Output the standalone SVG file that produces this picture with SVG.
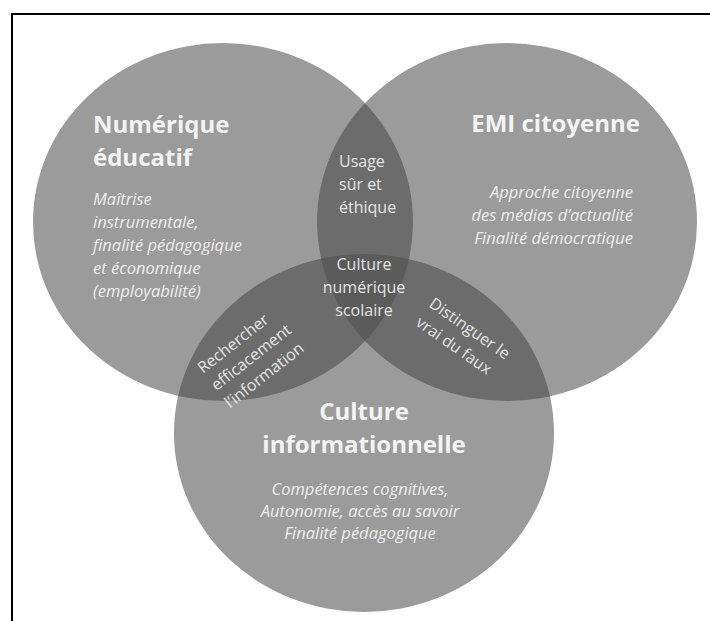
<svg xmlns="http://www.w3.org/2000/svg" width="710" height="621" viewBox="0 0 710 621">
  <style>
    .single { fill: #9b9b9b; }
    .double { fill: #6c6c6c; }
    .triple { fill: #5b5b5b; }
    text { font-family: "Open Sans", "Noto Sans", "DejaVu Sans", sans-serif; }
    .title { font-size: 24px; font-weight: bold; fill: #f4f4f4; }
    .desc { font-size: 16.5px; font-style: italic; fill: #eeeeee; }
    .lens { font-size: 16px; fill: #e4e4e4; }
  </style>
  <defs>
    <clipPath id="clipL"><ellipse cx="223" cy="222" rx="190" ry="179"/></clipPath>
    <clipPath id="clipR"><ellipse cx="507" cy="222" rx="190" ry="179"/></clipPath>
  </defs>

  <rect width="710" height="621" fill="#ffffff"/>
  <g id="frame" fill="none" stroke="#000000" stroke-width="2">
    <path d="M12,621 V14 H710"/>
  </g>

  <g id="node-numerique-educatif">
    <ellipse class="single" cx="223" cy="222" rx="190" ry="179"/>
  </g>
  <g id="node-emi-citoyenne">
    <ellipse class="single" cx="507" cy="222" rx="190" ry="179"/>
  </g>
  <g id="node-culture-informationnelle">
    <ellipse class="single" cx="364" cy="433" rx="190" ry="179"/>
  </g>

  <g id="overlaps">
    <ellipse class="double" cx="507" cy="222" rx="190" ry="179" clip-path="url(#clipL)"/>
    <ellipse class="double" cx="364" cy="433" rx="190" ry="179" clip-path="url(#clipL)"/>
    <ellipse class="double" cx="364" cy="433" rx="190" ry="179" clip-path="url(#clipR)"/>
    <g clip-path="url(#clipR)">
      <ellipse class="triple" cx="364" cy="433" rx="190" ry="179" clip-path="url(#clipL)"/>
    </g>
  </g>

  <g id="labels-numerique-educatif">
    <text class="title" x="93" y="133">Numérique</text>
    <text class="title" x="93" y="166">éducatif</text>
    <text class="desc" x="93" y="205">Maîtrise</text>
    <text class="desc" x="93" y="228">instrumentale,</text>
    <text class="desc" x="93" y="251">finalité pédagogique</text>
    <text class="desc" x="93" y="274">et économique</text>
    <text class="desc" x="93" y="297">(employabilité)</text>
  </g>

  <g id="labels-emi-citoyenne">
    <text class="title" x="640" y="132" text-anchor="end">EMI citoyenne</text>
    <text class="desc" x="633" y="198" text-anchor="end">Approche citoyenne</text>
    <text class="desc" x="633" y="221" text-anchor="end">des médias d’actualité</text>
    <text class="desc" x="633" y="244" text-anchor="end">Finalité démocratique</text>
  </g>

  <g id="labels-culture-informationnelle">
    <text class="title" x="364" y="420" text-anchor="middle">Culture</text>
    <text class="title" x="364" y="453" text-anchor="middle">informationnelle</text>
    <text class="desc" x="360" y="495" text-anchor="middle">Compétences cognitives,</text>
    <text class="desc" x="360" y="517" text-anchor="middle">Autonomie, accès au savoir</text>
    <text class="desc" x="360" y="539" text-anchor="middle">Finalité pédagogique</text>
  </g>

  <g id="lens-usage">
    <text class="lens" x="339" y="167">Usage</text>
    <text class="lens" x="339" y="190">sûr et</text>
    <text class="lens" x="339" y="213">éthique</text>
  </g>

  <g id="lens-culture-numerique-scolaire">
    <text class="lens" x="364" y="270" text-anchor="middle">Culture</text>
    <text class="lens" x="364" y="293" text-anchor="middle">numérique</text>
    <text class="lens" x="364" y="316" text-anchor="middle">scolaire</text>
  </g>

  <g id="lens-rechercher" transform="translate(203,374) rotate(-38)">
    <text class="lens" x="0" y="0">Rechercher</text>
    <text class="lens" x="0" y="22">efficacement</text>
    <text class="lens" x="0" y="44">l’information</text>
  </g>

  <g id="lens-distinguer" transform="translate(428,306) rotate(35)">
    <text class="lens" x="0" y="0">Distinguer le</text>
    <text class="lens" x="0" y="23">vrai du faux</text>
  </g>
</svg>
